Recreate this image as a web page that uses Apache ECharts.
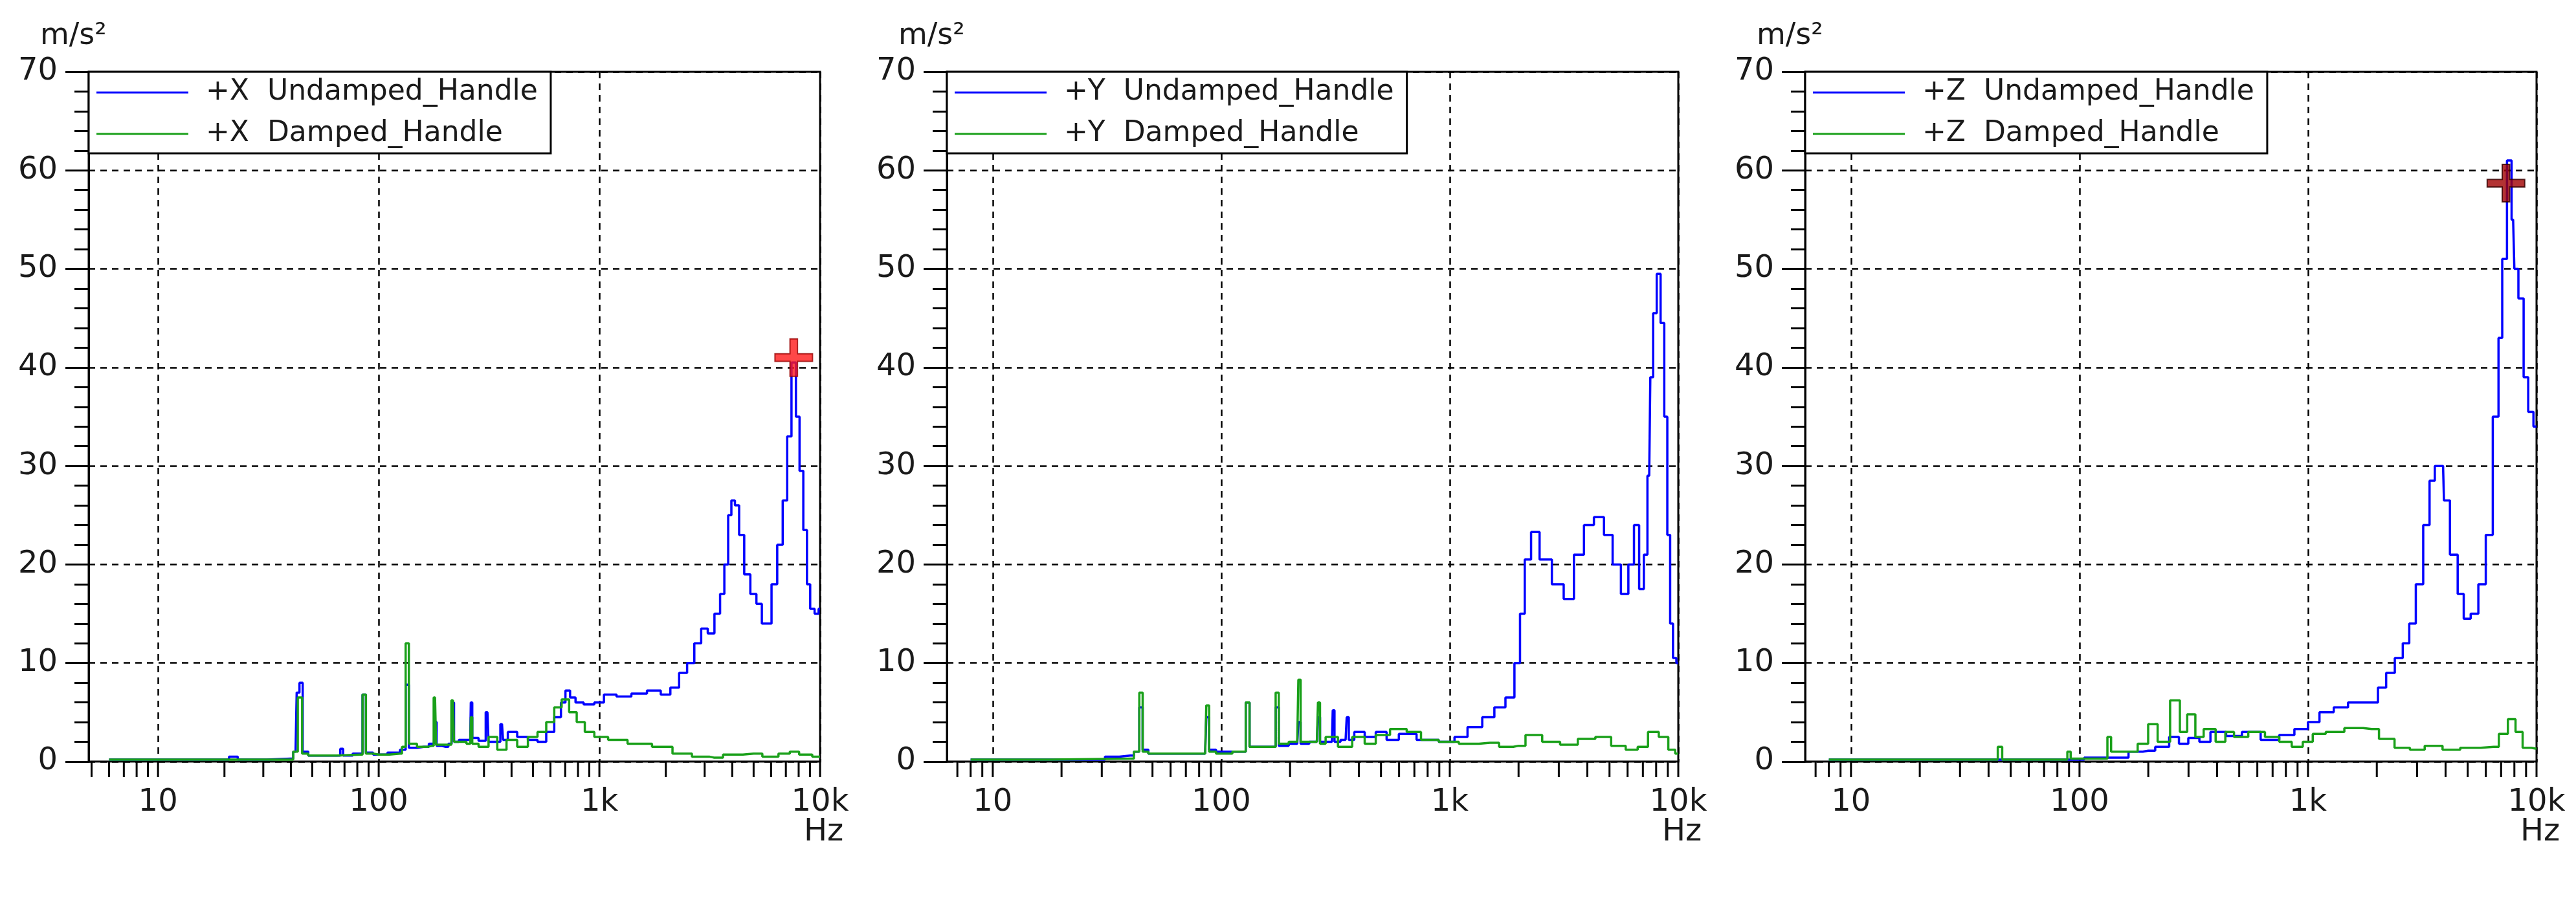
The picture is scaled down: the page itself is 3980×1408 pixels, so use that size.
<!DOCTYPE html>
<html>
<head>
<meta charset="utf-8">
<script src="https://cdn.jsdelivr.net/npm/echarts@6/dist/echarts.min.js"></script>
<style>html,body{margin:0;padding:0;background:#fff}#chart{width:3980px;height:1408px}</style>
</head>
<body>
<div id="chart"></div>
<script>
// [Hz, m/s²] pairs
const undampedX = [[6,0.2],[20,0.2],[22,0.5],[24,0.2],[40,0.3],[42,1],[43,7],[44.5,8],[46,1],[50,0.6],[66,0.6],[68,1.3],[70,0.6],[83,0.8],[86,6.8],[89,0.9],[100,0.7],[120,0.9],[130,1.2],[135,7.8],[139,1.4],[160,1.5],[178,1.8],[181,4],[185,1.6],[200,1.5],[214,1.8],[217,6.0],[222,2],[240,2.2],[260,2.2],[263,6],[268,2.4],[300,2.1],[311,5],[318,2],[350,2],[362,3.8],[370,2.2],[400,3],[450,2.5],[500,2.2],[550,2],[600,3],[650,4.5],[690,6],[714,7.2],[760,6.5],[800,6],[900,5.8],[1000,6],[1100,6.8],[1300,6.6],[1500,6.9],[1800,7.2],[2000,6.8],[2200,7.5],[2400,9],[2600,10],[2790,12],[3000,13.5],[3200,13],[3450,15],[3600,17],[3770,20],[3900,25],[4030,26.5],[4200,26],[4400,23],[4670,19],[5000,17],[5300,16],[5600,14],[5860,14],[6200,18],[6600,22],[6950,26.5],[7250,33],[7600,40.5],[7950,35],[8200,29.5],[8600,23.5],[8850,18],[9200,15.5],[9700,15],[10000,15.5]];
const dampedX = [[6,0.2],[40,0.2],[42,1],[44,6.5],[46,0.8],[50,0.6],[83,0.7],[86,6.8],[89,0.8],[100,0.7],[125,0.8],[130,1.5],[135,12],[139,1.8],[160,1.5],[175,1.6],[180,6.5],[184,1.7],[210,1.7],[217,6.2],[222,2],[240,2],[260,1.8],[263,4.5],[268,1.8],[300,1.5],[330,2.5],[360,1.2],[400,2.2],[450,1.5],[500,2.5],[550,3],[600,4],[650,5.5],[700,6.3],[760,5],[820,4],[900,3],[1000,2.5],[1200,2.2],[1500,1.8],[2000,1.5],[2300,0.8],[3000,0.5],[3300,0.4],[4000,0.7],[5000,0.8],[6000,0.5],[7000,0.8],[7600,1.0],[8500,0.7],[10000,0.5]];
const undampedY = [[8,0.2],[30,0.2],[32,0.5],[40,0.6],[43,1],[44.6,5.5],[46,1.2],[50,0.8],[85,0.8],[87,4.5],[90,1.2],[100,1],[125,1],[131,6],[135,1.5],[170,1.5],[176,5.5],[181,1.6],[215,1.8],[220,4],[225,1.8],[262,2],[268,4.5],[273,2],[305,2],[310,5.2],[316,2],[350,2.2],[358,4.5],[365,2.2],[400,3],[450,2.5],[500,3],[560,2.2],[640,2.8],[800,2.2],[1000,2],[1100,2.5],[1300,3.5],[1480,4.5],[1660,5.5],[1850,6.5],[1990,10],[2070,15],[2190,20.5],[2350,23.3],[2600,20.5],[3010,18],[3300,16.5],[3700,21],[4040,24],[4520,24.8],[4950,23],[5380,20],[5850,17],[6250,20],[6550,24],[6940,17.5],[7200,21],[7460,29],[7630,39],[7900,45.5],[8200,49.5],[8540,44.5],[8830,35],[9080,23],[9350,14],[9620,10.5],[10000,10]];
const dampedY = [[8,0.2],[40,0.3],[43,1],[44.6,7],[46,1],[50,0.8],[85,0.8],[87,5.7],[90,1],[100,0.8],[125,1],[131,6],[135,1.5],[170,1.5],[176,7],[181,1.8],[215,2],[220,8.3],[225,2],[262,2],[268,6],[273,1.8],[300,2.5],[350,1.5],[400,2.5],[450,1.8],[500,2.7],[600,3.3],[700,3],[800,2.2],[1000,2],[1200,1.8],[1500,1.9],[1800,1.5],[2000,1.6],[2300,2.7],[2800,2.0],[3300,1.7],[4000,2.3],[4700,2.5],[5500,1.6],[6300,1.2],[7000,1.5],[7760,3],[8700,2.5],[9400,1.2],[10000,0.8]];
const undampedZ = [[8,0.2],[100,0.2],[110,0.4],[150,0.4],[179,1],[200,1.1],[230,1.5],[265,2.5],[280,1.8],[320,2.4],[350,2],[400,3],[480,2.6],[550,3],[700,2.2],[800,2.7],[950,3.3],[1050,4],[1200,5],[1400,5.5],[1600,6],[1950,6],[2100,7.5],[2300,9],[2500,10.5],[2700,12],[2850,14],[3080,18],[3310,24],[3500,28.5],[3680,30],[3900,30],[3970,26.5],[4400,21],[4640,17],[4970,14.5],[5340,15],[5800,18],[6200,23],[6680,35],[6960,43],[7200,51],[7660,61],[7900,55],[8100,50],[8570,47],[9000,39],[9400,35.5],[10000,34]];
const dampedZ = [[8,0.2],[43,0.2],[44.8,1.5],[47,0.2],[87,0.2],[90,1],[93,0.3],[130,0.3],[135,2.5],[140,1],[170,1],[190,1.8],[210,3.8],[230,2],[270,6.2],[280,3],[313,4.8],[330,2.5],[370,3.3],[420,2],[450,3],[500,2.5],[600,3],[700,2.5],[800,2],[900,1.5],[1000,2],[1100,2.8],[1300,3],[1600,3.4],[1900,3.3],[2200,2.3],[2600,1.4],[3000,1.2],[3500,1.6],[4300,1.2],[5000,1.4],[6500,1.5],[7200,2.8],[7800,4.3],[8400,3],[9000,1.4],[10000,1.3]];
const peakX = [[7600, 41]];
const peakZ = [[7350, 58.7]];
const axisNames = ['+X', '+Y', '+Z'];
const xMins = [4.85, 6.3, 6.3];
const minorFreqs = [5,6,7,8,9,20,30,40,50,60,70,80,90,200,300,400,500,600,700,800,900,2000,3000,4000,5000,6000,7000,8000,9000,10,100,1000,10000];

const panels = [
    { und: undampedX, dmp: dampedX, peak: peakX, peakFill: '#ff1a1a', peakBorder: '#900' },
    { und: undampedY, dmp: dampedY, peak: null },
    { und: undampedZ, dmp: dampedZ, peak: peakZ, peakFill: '#a00000', peakBorder: '#300' }
];
const lefts = [137, 1463, 2789];
const FONT = 'DejaVu Sans';
const txt = '#1a1a1a';

const chart = echarts.init(document.getElementById('chart'), null, { renderer: 'canvas' });
const grid = [], xAxis = [], yAxis = [], series = [], legend = [], title = [];

panels.forEach((p, i) => {
    grid.push({ left: lefts[i], top: 111, width: 1130, height: 1066, show: true, borderColor: '#000', borderWidth: 3, backgroundColor: 'transparent' });
    xAxis.push({
        type: 'log', logBase: 10, gridIndex: i, min: xMins[i], max: 10000,
        axisLine: { show: false }, axisTick: { show: false },
        axisLabel: { fontFamily: FONT, fontSize: 48, color: txt, margin: 40, showMinLabel: false,
            formatter: v => v >= 1000 ? (v / 1000) + 'k' : String(v) },
        splitLine: { show: true, lineStyle: { color: '#000', width: 2.5, type: [10, 8] } }
    });
    yAxis.push({
        type: 'value', gridIndex: i, min: 0, max: 70, interval: 10,
        axisLine: { show: true, lineStyle: { color: '#000', width: 3 } },
        axisTick: { show: true, inside: false, length: 36, lineStyle: { color: '#000', width: 3 } },
        minorTick: { show: true, splitNumber: 5, length: 22, lineStyle: { color: '#000', width: 3 } },
        axisLabel: { fontFamily: FONT, fontSize: 48, color: txt, margin: 48, showMinLabel: true },
        splitLine: { show: true, lineStyle: { color: '#000', width: 2.5, type: [10, 8] } }
    });
    const nU = axisNames[i] + '  Undamped_Handle';
    const nD = axisNames[i] + '  Damped_Handle';
    series.push({ type: 'line', name: nU, xAxisIndex: i, yAxisIndex: i, data: p.und, step: 'middle', symbol: 'none', lineStyle: { color: '#0000ff', width: 3.5 }, itemStyle: { color: '#0000ff' }, z: 3 });
    series.push({ type: 'line', name: nD, xAxisIndex: i, yAxisIndex: i, data: p.dmp, step: 'middle', symbol: 'none', lineStyle: { color: '#1aa01a', width: 3.5 }, itemStyle: { color: '#1aa01a' }, z: 4 });
    series.push({
        type: 'custom', xAxisIndex: i, yAxisIndex: i, data: minorFreqs.map(f => [f, 0]), clip: false, silent: true,
        renderItem: (params, api) => {
            const f = api.value(0);
            if (f < xMins[i]) return null;
            const pt = api.coord([f, 0]);
            return { type: 'line', shape: { x1: pt[0], y1: pt[1], x2: pt[0], y2: pt[1] + 24 }, style: { stroke: '#000', lineWidth: 3 } };
        }
    });
    if (p.peak) {
        series.push({
            type: 'scatter', xAxisIndex: i, yAxisIndex: i, data: p.peak, z: 10,
            symbol: 'path://M4,0 L6,0 L6,4 L10,4 L10,6 L6,6 L6,10 L4,10 L4,6 L0,6 L0,4 L4,4 Z',
            symbolSize: 58, itemStyle: { color: p.peakFill, borderColor: p.peakBorder, borderWidth: 2 }
        });
    }
    legend.push({
        orient: 'vertical', left: lefts[i], top: 111, data: [nU, nD],
        backgroundColor: '#fff', borderColor: '#000', borderWidth: 3, borderRadius: 0,
        padding: [10, 20, 8, 12], itemGap: 20, itemWidth: 142, itemHeight: 3, icon: 'rect',
        selectedMode: false,
        textStyle: { fontFamily: FONT, fontSize: 44, color: txt, padding: [0, 0, 0, 22] }
    });
    title.push({ text: 'm/s²', left: lefts[i] - 80, top: 28, textStyle: { fontFamily: FONT, fontSize: 46, fontWeight: 'normal', color: txt } });
    title.push({ text: 'Hz', left: lefts[i] + 1100, top: 1258, textStyle: { fontFamily: FONT, fontSize: 48, fontWeight: 'normal', color: txt } });
});

chart.setOption({ animation: false, backgroundColor: '#fff', title, grid, xAxis, yAxis, legend, series });
window.addEventListener('resize', () => chart.resize());
</script>
</body>
</html>
